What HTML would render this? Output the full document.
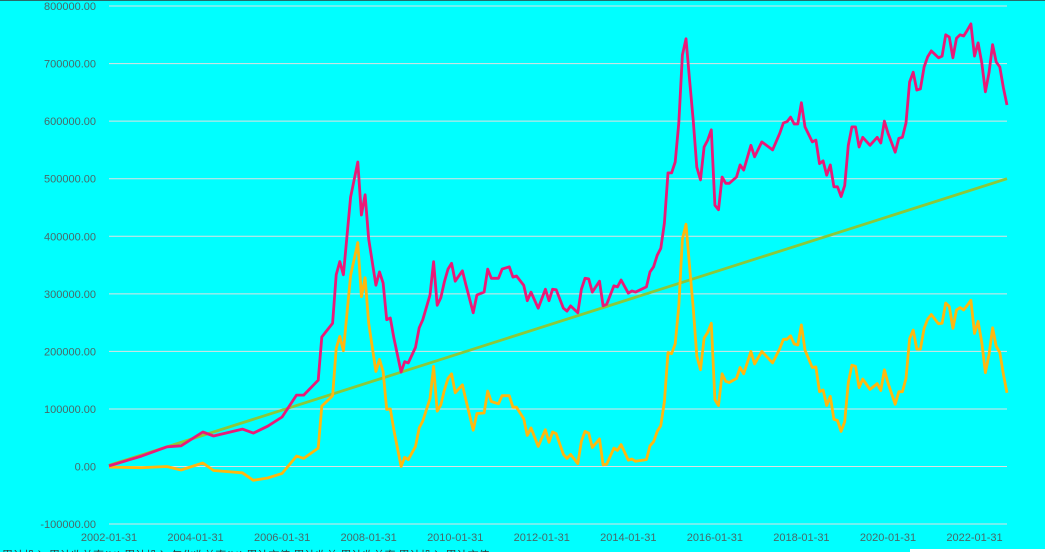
<!DOCTYPE html>
<html><head><meta charset="utf-8"><style>
html,body{margin:0;padding:0;background:#00ffff;width:1045px;height:552px;overflow:hidden}
svg{display:block;font-family:"Liberation Sans","Noto Sans CJK SC",sans-serif}
</style></head><body>
<svg id="chart" width="1045" height="552" viewBox="0 0 1045 552" xmlns="http://www.w3.org/2000/svg">
<rect x="0" y="0" width="1045" height="552" fill="#00ffff"/>
<rect x="0" y="0" width="1045" height="1" fill="#2a6a6a"/>
<g id="grid"></g><g id="yticks"></g><g id="xticks"></g><g id="series"></g>
<rect x="910" y="549" width="135" height="3" fill="#ffffff"/>
<text x="2" y="559" font-size="11" fill="#333">累计投入 累计收益率(%) 累计投入 年化收益率(%) 累计市值 累计收益 累计收益率 累计投入 累计市值</text>
</svg>
<script>
const yTicks=[-100000,0,100000,200000,300000,400000,500000,600000,700000,800000];
const xTickLabels=["2002-01-31","2004-01-31","2006-01-31","2008-01-31","2010-01-31","2012-01-31","2014-01-31","2016-01-31","2018-01-31","2020-01-31","2022-01-31"];
const xTickMonths=[0,24,48,72,96,120,144,168,192,216,240];
const months=[0,9,16,20,26,29,37,40,44,48,52,54,58,59,62,63,64,65,67,69,70,71,72,74,75,76,77,78,79,81,82,83,85,86,87,89,90,
91,92,93,94,95,96,98,99,101,102,104,105,106,108,109,111,112,113,115,116,117,119,121,122,123,124,126,127,128,130,131,132,133,134,136,137,138,140,141,142,144,145,146,149,150,151,152,153,
154,155,156,157,158,159,160,161,162,163,164,165,166,167,168,169,170,171,172,174,175,176,178,179,181,184,186,187,188,189,190,191,192,193,195,196,197,198,199,200,201,202,203,204,205,206,207,208,209,211,213,214,215,216,218,219,220,221,222,223,224,225,226,227,228,230,231,232,233,234,235,236,237,238,239,240,241,242,243,244,245,246,247,248,249];
const totalK=[1,18,34,36,60,53,65,58,70,86,124,124,150,225,249,333,356,333,468,529,437,472,395,315,338,319,255,258,223,164,182,180,207,241,255,298,356,
280,293,321,343,353,322,340,315,267,298,303,343,327,327,343,347,329,331,315,288,303,275,308,288,308,307,275,270,279,267,308,327,326,303,322,279,282,314,312,324,301,305,303,312,338,347,367,379,
423,510,510,529,597,715,743,671,602,520,498,555,567,585,454,446,503,492,492,503,524,515,558,538,564,550,579,597,599,607,595,595,632,590,564,567,526,531,506,524,486,486,469,488,558,590,590,555,572,558,572,562,600,579,546,570,572,597,668,685,654,656,694,712,722,710,713,750,746,710,744,750,748,758,769,713,736,701,651,684,733,703,694,658,628];
const investedMonths=[0,60,120,180,249];
const investedK=[2,122,242,362,500];

const NS="http://www.w3.org/2000/svg";
const X0=109,X1=1007,Y0=466.5,PXPER=57.56;
const xS=m=>X0+m*(X1-X0)/249;
const yS=v=>Y0-v/100000*PXPER;
function investedAt(m){for(let i=1;i<investedMonths.length;i++){if(m<=investedMonths[i]){const a=investedMonths[i-1],b=investedMonths[i];return investedK[i-1]+(investedK[i]-investedK[i-1])*(m-a)/(b-a);}}return investedK[investedK.length-1];}
const grid=document.getElementById('grid'),yt=document.getElementById('yticks'),xt=document.getElementById('xticks'),sr=document.getElementById('series');
yTicks.forEach(v=>{
 const l=document.createElementNS(NS,'line');
 l.setAttribute('x1',X0);l.setAttribute('x2',X1);l.setAttribute('y1',yS(v));l.setAttribute('y2',yS(v));
 l.setAttribute('stroke','#e0e0e0');l.setAttribute('stroke-width','1');
 
 
 grid.appendChild(l);
 const t=document.createElementNS(NS,'text');
 t.setAttribute('x',96);t.setAttribute('y',yS(v)+4);t.setAttribute('text-anchor','end');t.setAttribute('font-size','11');t.setAttribute('fill','#4a6868');
 t.textContent=v.toFixed(2);
 
 
 yt.appendChild(t);
});
xTickLabels.forEach((s,i)=>{
 const t=document.createElementNS(NS,'text');
 t.setAttribute('x',xS(xTickMonths[i]));t.setAttribute('y',541);t.setAttribute('text-anchor','middle');t.setAttribute('font-size','11');t.setAttribute('fill','#4a6868');
 t.textContent=s;
 
 
 xt.appendChild(t);
});
function path(pts,color,name){
 const p=document.createElementNS(NS,'polyline');
 p.setAttribute('points',pts.map(q=>q[0].toFixed(1)+','+q[1].toFixed(1)).join(' '));
 p.setAttribute('fill','none');p.setAttribute('stroke',color);p.setAttribute('stroke-width','2.8');p.setAttribute('stroke-linejoin','round');
 
 
 sr.appendChild(p);
}
path(investedMonths.map((m,i)=>[xS(m),yS(investedK[i]*1000)]),'#8bc83a','invested-line');
path(months.map((m,i)=>[xS(m),yS((totalK[i]-investedAt(m))*1000)]),'#ffb80f','profit-line');
path(months.map((m,i)=>[xS(m),yS(totalK[i]*1000)]),'#ea1a78','total-value-line');
</script>
</body></html>
